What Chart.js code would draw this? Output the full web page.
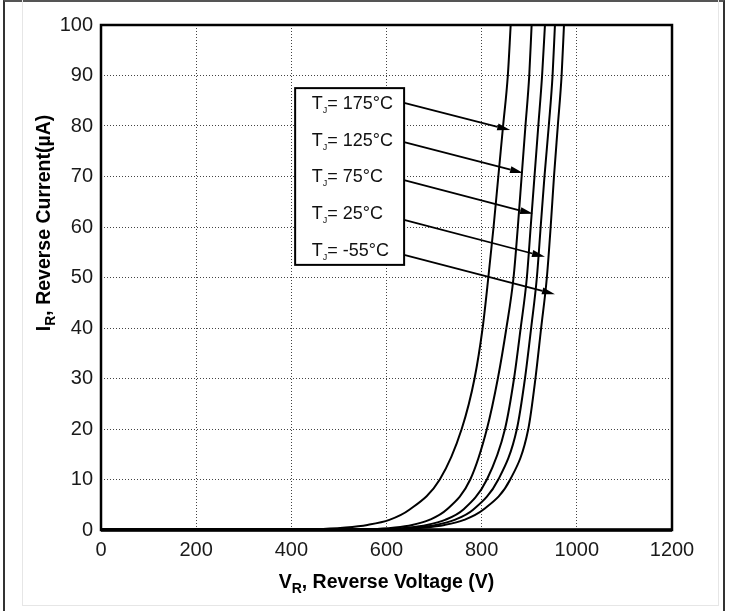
<!DOCTYPE html>
<html lang="en">
<head>
    <meta charset="UTF-8">
    <title>Reverse Current vs Reverse Voltage</title>
    <script src="https://cdn.jsdelivr.net/npm/chart.js"></script>
    <style>
        body {
            margin: 0;
            background-color: #ffffff;
        }
        .frame {
            position: absolute;
            left: 3px;
            top: 0;
            width: 722px;
            height: 611px;
            border-left: 2px solid #333;
            border-top: 2px solid #555;
            border-right: 2px solid #333;
            box-sizing: border-box;
        }
        .inner {
            position: absolute;
            left: 22px;
            top: 0;
            width: 697px;
            height: 606px;
            border: 1px solid #e6e6e6;
            border-top: none;
            box-sizing: border-box;
        }
        canvas#ivChart {
            position: absolute;
            left: 0;
            top: 0;
        }
    </style>
</head>
<body>
    <div class="frame"></div>
    <div class="inner"></div>
    <canvas id="ivChart" width="729" height="611"></canvas>

    <script>
        // reverse current (uA) shared by every curve, voltages read per junction temperature
        const currentUA = [0.1, 0.2, 0.5, 1, 2, 4, 10, 20, 30, 40, 50, 60, 70, 80, 90, 100];
        const vr175 = [0, 454, 514, 560, 606, 648, 712, 758, 785, 802, 814, 825, 835, 845, 855, 861];
        const vr125 = [0, 570, 618, 654, 690, 726, 776, 811, 834, 852, 867, 876, 884, 892, 900, 905];
        const vr75 = [0, 597, 647, 685, 723, 761, 811, 849, 868, 882, 895, 903, 911, 919, 927, 933];
        const vr25 = [0, 613, 665, 704, 743, 782, 835, 874, 891, 904, 916, 924, 932, 941, 949, 954];
        const vrM55 = [0, 625, 681, 722, 763, 803, 860, 898, 913, 925, 937, 945, 952, 960, 968, 973];
        const tempLabels = ['175°C', '125°C', '75°C', '25°C', '-55°C'];

        const xTicks = [0, 200, 400, 600, 800, 1000, 1200];
        const yTicks = [0, 10, 20, 30, 40, 50, 60, 70, 80, 90, 100];

        // callout box + arrows, in data units (V, uA)
        const calloutBox = { x0: 408, x1: 637, y0: 52.5, y1: 87.5 };
        const calloutTextX = 443;
        const calloutTextY = [84.6, 77.4, 70.1, 62.8, 55.6];
        const arrowTailY = [84.6, 76.8, 69.3, 61.4, 54.5];
        const arrowHeads = [[860, 79.2], [887, 70.7], [908, 62.6], [933, 54.1], [954, 46.7]];

        const FONT = "'Liberation Sans', Arial, sans-serif";

        function toPoints(volts) {
            return volts.map((v, i) => ({ x: v, y: currentUA[i] }));
        }

        function curve(volts) {
            return {
                data: toPoints(volts),
                showLine: true,
                borderColor: '#000',
                borderWidth: 2,
                pointRadius: 0,
                cubicInterpolationMode: 'monotone',
                fill: false
            };
        }

        function richText(ctx, parts, x, y, align) {
            let w = 0;
            parts.forEach(p => { ctx.font = p.font; w += ctx.measureText(p.text).width; });
            let cx = align === 'center' ? x - w / 2 : x;
            parts.forEach(p => {
                ctx.font = p.font;
                ctx.fillText(p.text, cx, y + (p.dy || 0));
                cx += ctx.measureText(p.text).width;
            });
        }

        const decorPlugin = {
            id: 'decor',
            afterDraw(chart) {
                const ctx = chart.ctx;
                const xs = chart.scales.x;
                const ys = chart.scales.y;
                const area = chart.chartArea;

                // plot frame
                ctx.save();
                ctx.strokeStyle = '#000';
                ctx.lineWidth = 2.5;
                ctx.strokeRect(area.left, area.top, area.right - area.left, area.bottom - area.top);
                ctx.lineWidth = 3.5;
                ctx.beginPath();
                ctx.moveTo(area.left, area.bottom);
                ctx.lineTo(area.right, area.bottom);
                ctx.stroke();

                // axis titles
                ctx.fillStyle = '#000';
                ctx.textBaseline = 'alphabetic';
                richText(ctx, [
                    { text: 'V', font: 'bold 19.5px ' + FONT },
                    { text: 'R', font: 'bold 14px ' + FONT, dy: 5 },
                    { text: ', Reverse Voltage (V)', font: 'bold 19.5px ' + FONT }
                ], (area.left + area.right) / 2, 588, 'center');

                ctx.save();
                ctx.translate(43, 223);
                ctx.rotate(-Math.PI / 2);
                richText(ctx, [
                    { text: 'I', font: 'bold 19.5px ' + FONT },
                    { text: 'R', font: 'bold 14px ' + FONT, dy: 5 },
                    { text: ', Reverse Current(\u00b5A)', font: 'bold 19.5px ' + FONT }
                ], 0, 7, 'center');
                ctx.restore();

                // callout box
                const bx0 = xs.getPixelForValue(calloutBox.x0);
                const bx1 = xs.getPixelForValue(calloutBox.x1);
                const by0 = ys.getPixelForValue(calloutBox.y1);
                const by1 = ys.getPixelForValue(calloutBox.y0);
                ctx.fillStyle = '#fff';
                ctx.fillRect(bx0, by0, bx1 - bx0, by1 - by0);
                ctx.strokeStyle = '#000';
                ctx.lineWidth = 2;
                ctx.strokeRect(bx0, by0, bx1 - bx0, by1 - by0);

                ctx.fillStyle = '#111';
                tempLabels.forEach((t, i) => {
                    const tx = xs.getPixelForValue(calloutTextX);
                    const ty = ys.getPixelForValue(calloutTextY[i]) + 6.5;
                    richText(ctx, [
                        { text: 'T', font: '18px ' + FONT },
                        { text: 'J', font: '9px ' + FONT, dy: 4 },
                        { text: '= ' + t, font: '18px ' + FONT }
                    ], tx, ty, 'left');
                });

                // arrows
                ctx.strokeStyle = '#000';
                ctx.fillStyle = '#000';
                ctx.lineWidth = 1.8;
                arrowHeads.forEach((h, i) => {
                    const x1 = bx1;
                    const y1 = ys.getPixelForValue(arrowTailY[i]);
                    const x2 = xs.getPixelForValue(h[0]);
                    const y2 = ys.getPixelForValue(h[1]);
                    const ang = Math.atan2(y2 - y1, x2 - x1);
                    const len = 13, half = 3.5;
                    const bxp = x2 - len * Math.cos(ang);
                    const byp = y2 - len * Math.sin(ang);
                    ctx.beginPath();
                    ctx.moveTo(x1, y1);
                    ctx.lineTo(bxp, byp);
                    ctx.stroke();
                    ctx.beginPath();
                    ctx.moveTo(x2, y2);
                    ctx.lineTo(bxp + half * Math.sin(ang), byp - half * Math.cos(ang));
                    ctx.lineTo(bxp - half * Math.sin(ang), byp + half * Math.cos(ang));
                    ctx.closePath();
                    ctx.fill();
                });
                ctx.restore();
            }
        };

        const ivCtx = document.getElementById('ivChart').getContext('2d');

        const ivChart = new Chart(ivCtx, {
            type: 'scatter',
            data: {
                datasets: [curve(vr175), curve(vr125), curve(vr75), curve(vr25), curve(vrM55)]
            },
            options: {
                responsive: false,
                animation: false,
                devicePixelRatio: 1,
                layout: { padding: { left: 0, top: 25, right: 57, bottom: 0 } },
                plugins: {
                    legend: { display: false },
                    tooltip: { enabled: false }
                },
                scales: {
                    x: {
                        type: 'linear',
                        min: 0,
                        max: 1200,
                        afterFit: s => { s.height = 81; },
                        afterBuildTicks: s => { s.ticks = xTicks.map(v => ({ value: v })); },
                        ticks: {
                            color: '#1a1a1a',
                            padding: 8,
                            maxRotation: 0,
                            callback: v => String(v),
                            font: { family: FONT, size: 20 }
                        },
                        grid: { color: '#444', lineWidth: 1, drawTicks: false },
                        border: { display: false, dash: [1, 2] }
                    },
                    y: {
                        type: 'linear',
                        min: 0,
                        max: 100,
                        afterFit: s => { s.width = 101; },
                        afterBuildTicks: s => { s.ticks = yTicks.map(v => ({ value: v })); },
                        ticks: {
                            color: '#1a1a1a',
                            padding: 8,
                            callback: v => String(v),
                            font: { family: FONT, size: 20 }
                        },
                        grid: { color: '#444', lineWidth: 1, drawTicks: false },
                        border: { display: false, dash: [1, 2] }
                    }
                }
            },
            plugins: [decorPlugin]
        });
    </script>
</body>
</html>
